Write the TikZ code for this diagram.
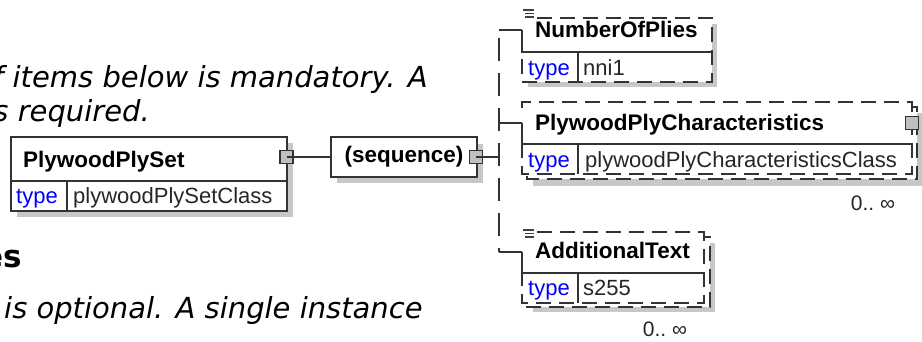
\documentclass[tikz,border=0pt]{standalone}
\usepackage{fontspec}
\setmainfont{Liberation Sans}
\newfontfamily\docfont{DejaVu Sans}[ItalicFont={DejaVu Sans Oblique}, BoldFont={DejaVu Sans Bold}]
\begin{document}
\begin{tikzpicture}[x=1pt, y=-1pt,
  elbox/.style={draw=black!80, line width=1.3pt, fill=white},
  optbox/.style={draw=black!80, line width=1.3pt, dash pattern=on 15pt off 8pt},
  solidln/.style={draw=black!80, line width=1.3pt},
  shadowbox/.style={fill=black!22},
  portn/.style={rectangle, draw=black!80, fill=black!25, line width=1.1pt, minimum width=13pt, minimum height=13pt, inner sep=0pt},
  seqbox/.style={rectangle, draw=black!80, fill=white, line width=1.3pt, minimum width=146pt, minimum height=40pt, inner sep=0pt, font=\fontsize{22.5}{26}\selectfont\bfseries},
  elname/.style={anchor=base west, inner sep=0pt, font=\fontsize{22.5}{26}\selectfont\bfseries},
  typekey/.style={anchor=base west, inner sep=0pt, text=blue, font=\fontsize{22}{26}\selectfont},
  typeval/.style={anchor=base west, inner sep=0pt, text=black!85, font=\fontsize{22}{26}\selectfont},
  occurs/.style={inner sep=0pt, text=black!85, font=\fontsize{21}{24}\selectfont},
  doctext/.style={anchor=base west, inner sep=0pt, font=\docfont\itshape\fontsize{29}{34}\selectfont},
  dochead/.style={anchor=base east, inner sep=0pt, font=\docfont\bfseries\fontsize{31}{36}\selectfont},
  docicon/.style={draw=black!75, line width=1.2pt},
  link/.style={draw=black!80, line width=1.3pt},
  optlink/.style={link, dash pattern=on 23pt off 12pt, dash phase=27pt}
]
  \useasboundingbox (0,0) rectangle (922,341);
  \fill[white] (0,0) rectangle (922,341);
  \clip (0,0) rectangle (922,341);

  \node[doctext, anchor=base east] (docA) at (428,87) {f items below is mandatory. A};
  \node[doctext, anchor=base east] (docB) at (150,121) {s required.};
  \node[dochead] (docH) at (22,267) {es};
  \node[doctext] (docC) at (4,318) {is optional. A single instance};

  \fill[shadowbox] (17,143) rectangle (293,217);
  \draw[elbox] (11,137) rectangle (287,211);
  \draw[solidln] (11,181) -- (287,181) (67,181) -- (67,211);
  \node[elname] (pps) at (23,167) {PlywoodPlySet};
  \node[typekey] (ppsKey) at (16,203) {type};
  \node[typeval] (ppsVal) at (73,203) {plywoodPlySetClass};
  \node[portn] (ppsPort) at (286.5,157) {};

  \fill[shadowbox] (337,144) rectangle (483,183);
  \node[seqbox] (seq) at (404,157) {(sequence)};
  \node[portn] (seqPort) at (476,157) {};

  \coordinate (jTop) at (499,30);
  \coordinate (jChar) at (499,123);
  \coordinate (jMid) at (499,157);
  \coordinate (jBot) at (499,252);
  \coordinate (nopIn) at (522,30);
  \coordinate (charIn) at (522,123);
  \coordinate (addIn) at (522,252);

  \draw[link] (ppsPort.center) -- (seq.west);
  \draw[link] (seqPort.center) -- (jMid);
  \draw[optlink] (jTop) -- (jBot);
  \draw[link] (jTop) -- (nopIn);
  \draw[link] (jChar) -- (charIn);
  \draw[link] (jBot) -- (addIn);

  \fill[shadowbox] (528,24) rectangle (717,87);
  \fill[white] (522,18) rectangle (712,82);
  \draw[optbox] (537,18) -- (712,18) -- (712,82) -- (522,82) -- (522,52);
  \draw[solidln] (nopIn) -- (522,52) -- (712,52) (578,52) -- (578,82);
  \draw[docicon] (523,10) -- (534,10) (525,13.5) -- (534,13.5) (525,17) -- (534,17);
  \node[elname] (nop) at (535,37.5) {NumberOfPlies};
  \node[typekey] (nopKey) at (528,75) {type};
  \node[typeval] (nopVal) at (583,75) {nni1};

  \fill[shadowbox] (533,113) rectangle (922,186);
  \draw[optbox, fill=white] (527,107) rectangle (917,179);
  \fill[white] (522,102) rectangle (912,174);
  \draw[optbox] (522,108) -- (522,102) -- (912,102) -- (912,174) -- (522,174) -- (522,144);
  \draw[solidln] (charIn) -- (522,144) -- (912,144) (578,144) -- (578,174);
  \node[portn] (charPort) at (912,123) {};
  \node[elname] (char) at (535,130) {PlywoodPlyCharacteristics};
  \node[typekey] (charKey) at (528,167) {type};
  \node[typeval] (charVal) at (585,167) {plywoodPlyCharacteristicsClass};
  \node[occurs] (charOcc) at (873,203) {0..\ ∞};

  \fill[shadowbox] (533,243) rectangle (715,312);
  \draw[optbox, fill=white] (527,237) rectangle (710,307);
  \fill[white] (522,232) rectangle (704,303);
  \draw[optbox] (537,232) -- (704,232) -- (704,303) -- (522,303) -- (522,273);
  \draw[solidln] (addIn) -- (522,273) -- (704,273) (578,273) -- (578,303);
  \draw[docicon] (523,230) -- (534,230) (525,233.5) -- (534,233.5) (525,237) -- (534,237);
  \node[elname] (add) at (535,258) {AdditionalText};
  \node[typekey] (addKey) at (528,295) {type};
  \node[typeval] (addVal) at (583,295) {s255};
  \node[occurs] (addOcc) at (665,329) {0..\ ∞};
\end{tikzpicture}
\end{document}
